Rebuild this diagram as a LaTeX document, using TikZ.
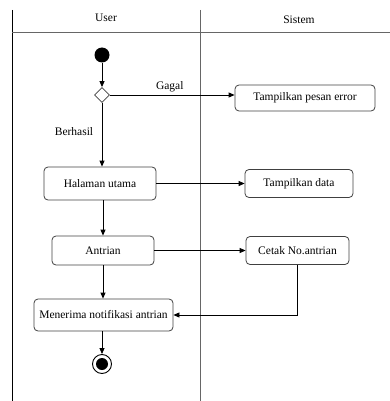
\documentclass[tikz,border=0pt]{standalone}
\usepackage{fontspec}
\setmainfont{Liberation Serif}
\usetikzlibrary{arrows.meta,shapes.geometric}
\begin{document}
\begin{tikzpicture}[x=1pt,y=-1pt,
  act/.style={draw=black!75,line width=0.8pt,rounded corners=4pt,inner sep=0pt,font=\fontsize{11.5}{13}\selectfont},
  flow/.style={draw=black,line width=0.8pt,-{Triangle[length=6pt,width=5pt]}},
  lbl/.style={font=\fontsize{11.5}{13}\selectfont},
  lane/.style={draw=black!60,line width=1pt}]
\useasboundingbox (0,0) rectangle (390,401);
% swimlanes
\draw[line width=1pt] (12,10) -- (12,401);
\draw[lane] (12,33) -- (390,33);
\draw[lane] (200,10) -- (200,401);
\node[lbl] (hu) at (106,18) {User};
\node[lbl] (hs) at (299,20) {Sistem};
% nodes
\node[circle,fill=black,minimum size=15pt,inner sep=0pt] (start) at (102,55) {};
\node[diamond,draw=black!75,fill=white,line width=0.8pt,minimum width=15pt,minimum height=15pt,inner sep=0pt] (dec) at (102,95) {};
\node[act,minimum width=140pt,minimum height=26pt] (err) at (305,98) {Tampilkan pesan error};
\node[act,minimum width=112pt,minimum height=33pt] (hal) at (100,183.5) {Halaman utama};
\node[act,minimum width=108pt,minimum height=28pt] (tdata) at (299,183.5) {Tampilkan data};
\node[act,minimum width=102pt,minimum height=29pt] (antr) at (103,250.5) {Antrian};
\node[act,minimum width=103pt,minimum height=28pt] (cetak) at (297.5,250.5) {Cetak No.antrian};
\node[act,minimum width=139pt,minimum height=32pt] (terima) at (103.5,315) {Menerima notifikasi antrian};
\node[circle,draw=black,line width=0.9pt,minimum size=19pt,inner sep=0pt] (end) at (102,364) {};
\node[circle,fill=black,minimum size=12pt,inner sep=0pt] (endin) at (end) {};
% flows
\draw[flow] (start) -- (dec);
\draw[flow] (dec.east) -- node[lbl,above,pos=0.48,yshift=-1pt] (gagal) {Gagal} (dec.east -| err.west);
\draw[flow] (dec.south) -- (hal.north -| dec.south);
\node[lbl] (berhasil) at (74,132) {Berhasil};
\draw[flow] (hal.east) -- (hal.east -| tdata.west);
\draw[flow] (hal.south -| antr.north) -- (antr.north);
\draw[flow] (antr.east) -- (antr.east -| cetak.west);
\draw[flow] (antr.south) -- (antr.south |- terima.north);
\draw[flow] (cetak.south) |- (terima.east);
\draw[flow] (terima.south -| end.north) -- (end.north);
\end{tikzpicture}
\end{document}
